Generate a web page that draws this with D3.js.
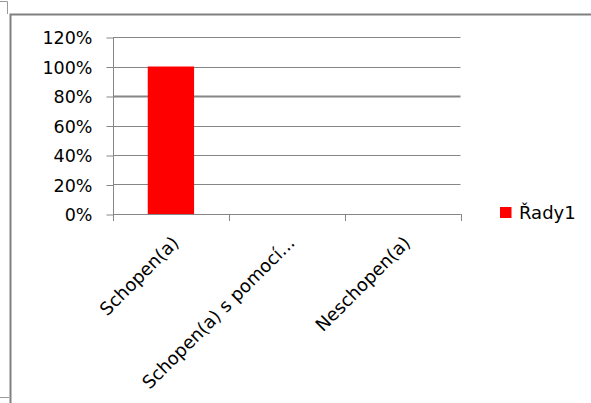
<!DOCTYPE html>
<html>
<head>
<meta charset="utf-8">
<script src="https://cdn.jsdelivr.net/npm/d3@7"></script>
<style>
  html, body { margin: 0; padding: 0; background: #fff; }
  svg { display: block; }
  text { font-family: "DejaVu Sans", sans-serif; fill: #000; }
</style>
</head>
<body>
<svg id="chart" width="591" height="403"></svg>
<script>
// Chart data
const categories = ["Schopen(a)", "Schopen(a) s pomocí...", "Neschopen(a)"];
const values = [1, 0, 0];
const yTicks = [0, 0.2, 0.4, 0.6, 0.8, 1.0, 1.2];
const seriesName = "Řady1";

const W = 591, H = 403;
const plot = { left: 113, right: 460.5, top: 37, bottom: 214 };
const gridColor = "#868686";
const barColor = "#ff0000";

const svg = d3.select("#chart");

// Outer chart frame
svg.append("path")
  .attr("d", "M0,1.5H7.5V14")
  .attr("fill", "none").attr("stroke", "#9a9a9a").attr("stroke-width", 1);
svg.append("path")
  .attr("d", `M10.5,${H}V14.5H${W}`)
  .attr("fill", "none").attr("stroke", "#808080").attr("stroke-width", 2);
svg.append("path")
  .attr("d", "M0,397.5H9")
  .attr("fill", "none").attr("stroke", "#9a9a9a").attr("stroke-width", 1);

// Scales
const x = d3.scaleBand()
  .domain(categories)
  .range([plot.left, plot.right])
  .paddingInner(0.6)
  .paddingOuter(0.3);

const y = d3.scaleLinear()
  .domain([0, 1.2])
  .range([plot.bottom, plot.top]);

// Horizontal gridlines
svg.append("g")
  .selectAll("line")
  .data(yTicks)
  .join("line")
  .attr("x1", plot.left)
  .attr("x2", plot.right)
  .attr("y1", d => Math.round(y(d)) + 0.5)
  .attr("y2", d => Math.round(y(d)) + 0.5)
  .attr("stroke", gridColor)
  .attr("stroke-width", d => Math.abs(d - 0.8) < 1e-9 ? 2 : 1);

// Y axis
const yAxis = d3.axisLeft(y)
  .tickValues(yTicks)
  .tickFormat(d3.format(".0%"))
  .tickSize(7)
  .tickPadding(14)
  .tickSizeOuter(0);

const gy = svg.append("g")
  .attr("transform", `translate(${plot.left + 0.5},0.5)`)
  .call(yAxis);
gy.select(".domain").attr("stroke", gridColor)
  .attr("d", `M0,${plot.top - 0.5}V${plot.bottom + 6}`);
gy.selectAll(".tick line").attr("stroke", gridColor);
gy.selectAll(".tick text")
  .attr("font-family", "DejaVu Sans, sans-serif")
  .attr("font-size", 17.5)
  .attr("fill", "#000")
  .attr("dy", "0.36em");

// Bars
svg.append("g")
  .selectAll("rect")
  .data(values)
  .join("rect")
  .attr("x", (d, i) => x(categories[i]))
  .attr("y", d => y(d))
  .attr("width", x.bandwidth())
  .attr("height", d => y(0) - y(d))
  .attr("fill", barColor);

// X axis with ticks at the category boundaries
const gx = svg.append("g");
gx.append("line")
  .attr("x1", plot.left).attr("x2", plot.right)
  .attr("y1", plot.bottom + 0.5).attr("y2", plot.bottom + 0.5)
  .attr("stroke", gridColor);
const edges = d3.range(categories.length + 1)
  .map(i => plot.left + i * (plot.right - plot.left) / categories.length);
gx.selectAll("line.tick")
  .data(edges)
  .join("line")
  .attr("class", "tick")
  .attr("x1", d => Math.round(d) + 0.5).attr("x2", d => Math.round(d) + 0.5)
  .attr("y1", plot.bottom).attr("y2", plot.bottom + 7)
  .attr("stroke", gridColor);

// Rotated category labels
gx.selectAll("text")
  .data(categories)
  .join("text")
  .attr("transform", d => {
    const cx = x(d) + x.bandwidth() / 2 + 9;
    const cy = plot.bottom + 30;
    return `translate(${cx},${cy}) rotate(-45)`;
  })
  .attr("text-anchor", "end")
  .attr("font-size", 18)
  .text(d => d);

// Legend
const legend = svg.append("g").attr("transform", "translate(500,207)");
legend.append("rect")
  .attr("width", 11.5).attr("height", 11)
  .attr("fill", barColor);
legend.append("text")
  .attr("x", 19).attr("y", 12)
  .attr("font-size", 18)
  .text(seriesName);
</script>
</body>
</html>
